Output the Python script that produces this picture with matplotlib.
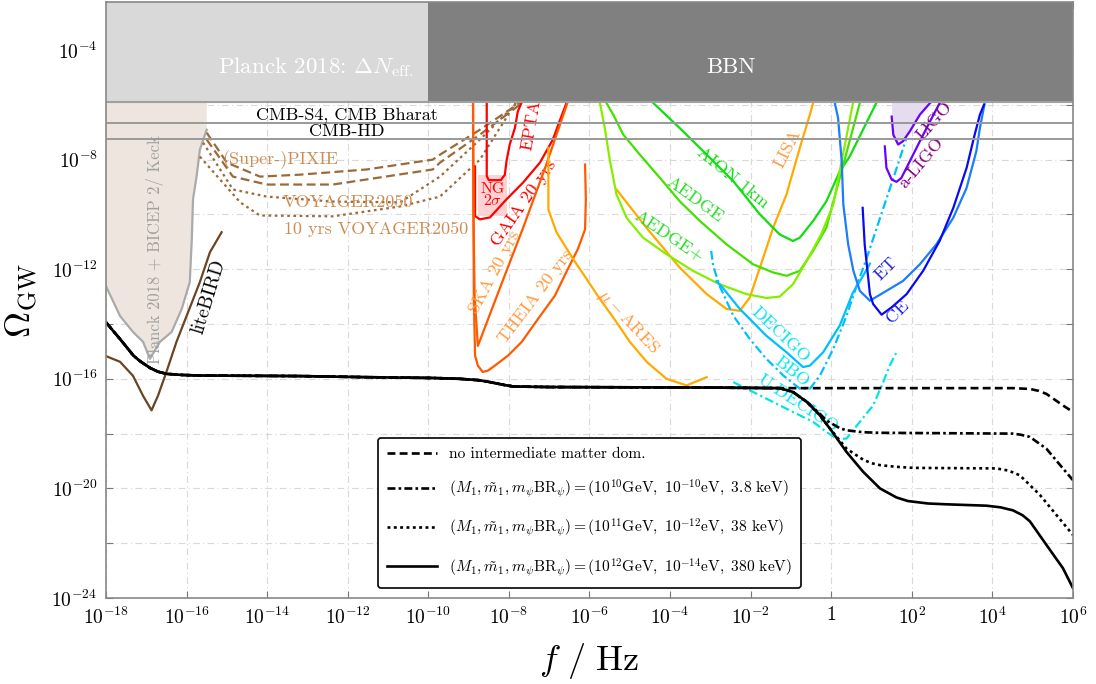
import numpy as np
import matplotlib
matplotlib.use("Agg")
import matplotlib.pyplot as plt
from matplotlib.patches import Rectangle

plt.rcParams['font.family'] = 'serif'
plt.rcParams['font.serif'] = ['cmr10', 'DejaVu Serif']
plt.rcParams['mathtext.fontset'] = 'cm'
plt.rcParams['axes.formatter.use_mathtext'] = True

# all values are log10(f/Hz) and log10(Omega_GW)

# benchmark spectra: shared low-frequency part, then the tails
common_lf = [-18.0, -17.65, -17.32, -17.16, -16.91, -16.71, -16.49, -16.1, -15.67, -13.19, -11.53, -9.88, -9.22, -8.75, -8.47, -8.1, -7.89, -7.0, -3.0, -1.28]
common_lo = [-13.94, -14.55, -15.15, -15.35, -15.6, -15.74, -15.82, -15.86, -15.88, -15.9, -15.94, -15.97, -16.0, -16.05, -16.12, -16.23, -16.28, -16.3, -16.32, -16.34]

nomd_lf = [0.0, 2.0, 4.5, 4.93, 5.15, 5.34, 5.75, 6.0]
nomd_lo = [-16.34, -16.34, -16.34, -16.37, -16.44, -16.55, -16.97, -17.21]

m10_lf = [-0.95, -0.6, -0.3, -0.12, 0.21, 0.38, 0.8, 1.21, 4.51, 4.7, 4.93, 5.34, 5.75, 6.0]
m10_lo = [-16.48, -16.85, -17.25, -17.52, -17.8, -17.88, -17.95, -17.97, -18.0, -18.04, -18.12, -18.55, -19.27, -19.7]

m11_lf = [-0.95, -0.6, -0.3, -0.03, 0.38, 0.79, 1.0, 1.21, 1.6, 2.03, 4.10, 4.4, 4.68, 5.18, 5.59, 6.0]
m11_lo = [-16.48, -16.85, -17.3, -17.82, -18.55, -18.95, -19.08, -19.15, -19.21, -19.25, -19.27, -19.35, -19.52, -20.24, -20.97, -21.7]

m12_lf = [-0.95, -0.6, -0.3, -0.03, 0.38, 0.79, 1.21, 1.62, 1.9, 2.4, 2.86, 3.85, 4.2, 4.51, 4.75, 4.93, 5.34, 5.75, 6.0]
m12_lo = [-16.48, -16.85, -17.3, -17.82, -18.67, -19.39, -20.0, -20.33, -20.46, -20.55, -20.58, -20.63, -20.69, -20.8, -20.98, -21.2, -22.06, -22.91, -23.64]

legend_labels = [
    'no intermediate matter dom.',
    r'$(M_1, \tilde{m}_1, m_\psi \mathrm{BR}_\psi) = (10^{10}\mathrm{GeV},\ 10^{-10}\mathrm{eV},\ 3.8\ \mathrm{keV})$',
    r'$(M_1, \tilde{m}_1, m_\psi \mathrm{BR}_\psi) = (10^{11}\mathrm{GeV},\ 10^{-12}\mathrm{eV},\ 38\ \mathrm{keV})$',
    r'$(M_1, \tilde{m}_1, m_\psi \mathrm{BR}_\psi) = (10^{12}\mathrm{GeV},\ 10^{-14}\mathrm{eV},\ 380\ \mathrm{keV})$',
]

# bounds
band_low = -5.9
cmbs4_lo = -6.65
cmbhd_lo = -7.24

planck_lf = [-15.5, -15.67, -15.75, -15.84, -15.87, -15.92, -16.12, -16.37, -16.66, -16.91, -17.08, -17.33, -17.65, -18.0]
planck_lo = [-6.91, -7.64, -8.6, -9.45, -10.9, -12.47, -13.45, -14.29, -14.65, -15.27, -14.65, -14.29, -13.71, -12.62]

litebird_lf = [-18.02, -17.65, -17.33, -17.08, -16.87, -16.71, -16.5, -16.25, -16.0, -15.67, -15.42, -15.13]
litebird_lo = [-15.16, -15.38, -15.89, -16.62, -17.15, -16.62, -15.75, -14.65, -13.71, -12.47, -11.38, -10.65]

pixie_lf = [-15.5, -15.0, -14.18, -13.19, -11.53, -9.89, -9.71, -8.72, -7.73]
pixie_lo = [-7.02, -8.11, -8.62, -8.55, -8.36, -8.0, -7.82, -6.91, -5.93]
spixie_lf = [-15.5, -14.85, -14.01, -12.37, -9.89, -9.71, -8.72, -7.73]
spixie_lo = [-7.27, -8.62, -8.91, -8.91, -8.36, -8.11, -7.09, -6.0]
voy_lf = [-15.59, -14.85, -14.01, -12.37, -10.7, -9.71, -8.72, -7.8]
voy_lo = [-7.38, -9.09, -9.35, -9.53, -9.56, -8.62, -7.27, -5.93]
voy10_lf = [-15.67, -14.67, -14.18, -12.37, -10.7, -9.71, -8.72, -7.83]
voy10_lo = [-7.89, -9.56, -10.04, -10.07, -9.71, -9.35, -8.0, -5.93]

epta_lf = [-8.55, -8.55, -8.5, -8.2, -8.1, -8.06, -7.98, -7.85, -7.78, -7.68]
epta_lo = [-5.9, -8.6, -8.75, -8.75, -8.55, -8.06, -7.45, -6.84, -6.25, -5.9]

gaia_lf = [-8.84, -8.84, -8.72, -8.47, -8.06, -7.65, -7.23, -6.91, -6.73, -6.57]
gaia_lo = [-8.25, -10.06, -10.18, -10.11, -9.45, -8.84, -8.11, -7.27, -6.55, -5.93]

ng_box = [-8.77, -8.05, -10.07, -8.55]  # f min, f max, Omega min, Omega max

ska_lf = [-8.89, -8.88, -8.85, -8.77, -8.2, -7.65, -7.1, -6.54]
ska_lo = [-5.9, -10.0, -13.0, -14.8, -12.6, -10.5, -8.3, -5.9]

theia_lf = [-8.89, -8.87, -8.84, -8.77, -8.65, -8.52, -8.35, -8.02, -7.68, -7.28, -6.86, -6.54, -6.29, -6.11, -6.09, -6.11]
theia_lo = [-5.93, -13.1, -15.15, -15.52, -15.75, -15.7, -15.52, -15.15, -14.65, -13.82, -12.97, -12.0, -11.27, -10.55, -9.45, -8.18]

mares_lf = [-7.02, -7.02, -6.82, -6.40, -6.07, -5.74, -5.33, -5.0, -4.58, -4.09, -3.59, -3.09]
mares_lo = [-7.57, -9.82, -10.65, -11.64, -12.36, -13.09, -13.93, -14.65, -15.38, -16.0, -16.24, -15.94]

lisa_lf = [-5.33, -4.59, -3.76, -3.09, -2.60, -2.27, -2.02, -1.77, -1.44, -1.11, -0.78, -0.53, -0.45]
lisa_lo = [-9.09, -10.48, -11.94, -12.91, -13.45, -13.52, -13.03, -11.94, -10.48, -9.27, -7.57, -6.36, -5.93]

aion_lf = [-4.42, -3.76, -3.09, -2.43, -1.77, -1.28, -0.95, -0.78, -0.45, -0.12, 0.21, 0.46, 1.12]
aion_lo = [-5.93, -6.85, -7.82, -8.79, -10.0, -10.73, -10.97, -10.85, -10.24, -9.52, -8.43, -7.88, -5.93]

aedge_lf = [-5.58, -5.41, -5.16, -4.75, -4.25, -3.76, -3.26, -2.60, -1.94, -1.44, -1.11, -0.78, -0.45, -0.12, 0.29, 0.71]
aedge_lo = [-5.93, -6.36, -7.09, -7.82, -8.67, -9.52, -10.24, -11.09, -11.82, -12.12, -12.24, -12.06, -11.33, -10.48, -8.24, -5.93]

aedgep_lf = [-5.74, -5.62, -5.49, -5.33, -5.08, -4.67, -4.09, -3.43, -2.77, -2.10, -1.61, -1.28, -0.95, -0.61, -0.25, 0.05, 0.54]
aedgep_lo = [-5.93, -6.85, -8.06, -9.27, -10.12, -10.85, -11.45, -12.06, -12.55, -12.91, -13.05, -13.0, -12.55, -11.7, -10.73, -9.64, -5.93]

decigo_lf = [-2.85, -2.73, -2.27, -1.61, -1.11, -0.70, -0.53, -0.20, 0.21, 0.54, 0.79, 0.96]
decigo_lo = [-12.44, -12.61, -13.45, -14.43, -15.03, -15.57, -15.52, -15.03, -14.06, -12.85, -12.24, -11.8]

bbo_lf = [-2.98, -2.93, -2.77, -2.43, -2.02, -1.61, -1.19, -0.78, -0.53, -0.28, 0.05, 0.38, 0.63, 0.87, 1.20, 1.53, 1.87]
bbo_lo = [-11.33, -11.88, -12.61, -13.70, -14.55, -15.27, -15.88, -16.36, -16.36, -15.88, -14.91, -13.70, -12.61, -11.64, -10.18, -8.73, -7.2]

udecigo_lf = [-2.43, -1.94, -1.44, -0.95, -0.45, -0.12, 0.16, 0.38, 0.71, 1.04, 1.29, 1.45, 1.62]
udecigo_lo = [-16.12, -16.48, -16.85, -17.21, -17.57, -17.94, -18.2, -18.18, -17.57, -16.97, -16.12, -15.52, -15.03]

et_lf = [0.09, 0.17, 0.26, 0.30, 0.42, 0.55, 0.71, 0.96, 1.37, 1.78, 2.20, 2.61, 3.03, 3.36, 3.60, 3.69, 3.77, 3.81]
et_lo = [-5.94, -6.48, -8.06, -9.64, -11.09, -12.06, -12.79, -13.15, -12.79, -12.43, -11.82, -11.09, -10.12, -9.03, -7.70, -6.85, -6.24, -5.94]

ce_lf = [0.78, 0.83, 0.96, 1.04, 1.25, 1.50, 1.87, 2.28, 2.69, 3.03, 3.36, 3.56, 3.69, 3.79]
ce_lo = [-9.76, -11.09, -12.91, -13.27, -13.66, -13.39, -12.91, -12.06, -10.97, -9.76, -8.30, -7.09, -6.36, -6.0]

ligo_lf = [1.50, 1.54, 1.66, 1.78, 1.95, 2.20, 2.45]
ligo_lo = [-6.43, -7.09, -7.45, -7.33, -6.97, -6.36, -5.94]

aligo_lf = [1.33, 1.37, 1.50, 1.62, 1.74, 1.95, 2.20, 2.45, 2.69]
aligo_lo = [-7.52, -8.30, -8.73, -8.81, -8.67, -8.06, -7.33, -6.61, -5.94]


def P(a):
    return 10.0 ** np.asarray(a, dtype=float)


fig = plt.figure(figsize=(10.96, 6.84), dpi=100)
ax = fig.add_axes([0.0967, 0.1257, 0.8823, 0.8713])
ax.set_xscale('log')
ax.set_yscale('log')
ax.set_xlim(1e-18, 1e6)
ax.set_ylim(1e-24, 10 ** -2.25)

# exclusion bands
ax.fill_between([1e-18, 1e-10], 10 ** band_low, 10 ** -2.25, color='#d9d9d9', lw=0, zorder=6)
ax.fill_between([1e-10, 1e6], 10 ** band_low, 10 ** -2.25, color='#808080', lw=0, zorder=6)
ax.axhline(10 ** band_low, color='#a0a0a0', lw=1.5, zorder=7)
ax.text(10 ** -12.8, 10 ** -4.62, r'Planck 2018: $\Delta N_{\rm eff.}$', color='white', fontsize=16.5,
        ha='center', va='center', zorder=8)
ax.text(10 ** -2.5, 10 ** -4.62, 'BBN', color='white', fontsize=16.5, ha='center', va='center', zorder=8)

# CMB projections
ax.axhline(10 ** cmbs4_lo, color='#999999', lw=1.4, zorder=4)
ax.axhline(10 ** cmbhd_lo, color='#999999', lw=1.4, zorder=4)
ax.text(10 ** -12.02, 10 ** -6.38, 'CMB-S4, CMB Bharat', fontsize=13, ha='center', va='center', zorder=5)
ax.text(10 ** -12.02, 10 ** -6.97, 'CMB-HD', fontsize=13, ha='center', va='center', zorder=5)

# Planck + BICEP region
poly_lf = [-18.0, -15.5] + planck_lf
poly_lo = [band_low, band_low] + planck_lo
ax.fill(P(poly_lf), P(poly_lo), color='#ede5de', lw=0, zorder=1)
ax.plot(P(planck_lf), P(planck_lo), color='#aaaaaa', lw=1.6, zorder=2)
ax.text(10 ** -16.78, 10 ** -11.3, 'Planck 2018 + BICEP 2/ Keck', color='#a0a0a0', fontsize=12,
        rotation=90, ha='center', va='center', zorder=3)

# liteBIRD and spectral distortions
ax.plot(P(litebird_lf), P(litebird_lo), color='#6b4423', lw=1.6, zorder=3)
ax.text(10 ** -15.45, 10 ** -13.0, 'liteBIRD', fontsize=14, rotation=73, ha='center', va='center', zorder=3)
brown = '#9b6a3a'
ax.plot(P(pixie_lf), P(pixie_lo), color=brown, lw=1.6, ls=(0, (4, 2)), zorder=3)
ax.plot(P(spixie_lf), P(spixie_lo), color=brown, lw=1.6, ls=(0, (4, 2)), zorder=3)
ax.plot(P(voy_lf), P(voy_lo), color=brown, lw=1.6, ls=(0, (1.2, 1.6)), zorder=3)
ax.plot(P(voy10_lf), P(voy10_lo), color=brown, lw=1.6, ls=(0, (1.2, 1.6)), zorder=3)
tan = '#cd8c52'
ax.text(10 ** -13.68, 10 ** -8.0, '(Super-)PIXIE', color=tan, fontsize=13, ha='center', va='center', zorder=3)
ax.text(10 ** -11.99, 10 ** -9.56, 'VOYAGER2050', color=tan, fontsize=13, ha='center', va='center', zorder=3)
ax.text(10 ** -11.3, 10 ** -10.55, '10 yrs VOYAGER2050', color=tan, fontsize=13, ha='center', va='center', zorder=3)

# pulsar timing and astrometry
ax.add_patch(Rectangle((10 ** ng_box[0], 10 ** ng_box[2]), 10 ** ng_box[1] - 10 ** ng_box[0],
                       10 ** ng_box[3] - 10 ** ng_box[2], color='#ffcccc', alpha=0.85, lw=0, zorder=3))
ax.text(10 ** -8.41, 10 ** -9.3, 'NG\n' + r'$2\sigma$', color='red', fontsize=11.5, ha='center', va='center',
        linespacing=0.8, zorder=4)
ax.plot(P(epta_lf), P(epta_lo), color='red', lw=1.6, zorder=3)
ax.plot(P(gaia_lf), P(gaia_lo), color='red', lw=1.6, zorder=3)
ax.text(10 ** -7.45, 10 ** -6.75, 'EPTA', color='red', fontsize=13, rotation=80, ha='center', va='center', zorder=3)
ax.text(10 ** -7.62, 10 ** -9.6, 'GAIA 20 yrs', color='red', fontsize=13, rotation=55, ha='center', va='center', zorder=3)
ax.plot(P(ska_lf), P(ska_lo), color='#ff5a00', lw=1.6, zorder=3)
ax.plot(P(theia_lf), P(theia_lo), color='#ff5a00', lw=1.6, zorder=3)
ax.text(10 ** -8.35, 10 ** -12.1, 'SKA 20 yrs', color='#ff9a3c', fontsize=13, rotation=62, ha='center', va='center', zorder=3)
ax.text(10 ** -7.33, 10 ** -13.0, 'THEIA 20 yrs', color='#ff9a3c', fontsize=13, rotation=53, ha='center', va='center', zorder=3)

# space and atom interferometers
ax.plot(P(mares_lf), P(mares_lo), color='#ffaa00', lw=1.6, zorder=3)
ax.text(10 ** -5.05, 10 ** -13.93, r'$\mu-$ARES', color='#ff9a3c', fontsize=13, rotation=-47, ha='center', va='center', zorder=3)
ax.plot(P(lisa_lf), P(lisa_lo), color='#ffaa00', lw=1.6, zorder=3)
ax.text(10 ** -1.08, 10 ** -7.6, 'LISA', color='#ff9a3c', fontsize=13, rotation=63, ha='center', va='center', zorder=3)
ax.plot(P(aion_lf), P(aion_lo), color='#11dd11', lw=1.6, zorder=3)
ax.text(10 ** -2.44, 10 ** -8.65, 'AION 1km', color='#11dd11', fontsize=13, rotation=-39, ha='center', va='center', zorder=3)
ax.plot(P(aedge_lf), P(aedge_lo), color='#44e000', lw=1.6, zorder=3)
ax.text(10 ** -3.38, 10 ** -9.45, 'AEDGE', color='#22dd22', fontsize=13, rotation=-36, ha='center', va='center', zorder=3)
ax.plot(P(aedgep_lf), P(aedgep_lo), color='#88ee00', lw=1.6, zorder=3)
ax.text(10 ** -4.03, 10 ** -10.8, 'AEDGE+', color='#22dd22', fontsize=13, rotation=-34, ha='center', va='center', zorder=3)

ax.plot(P(decigo_lf), P(decigo_lo), color='#00bfff', lw=1.6, zorder=3)
ax.plot(P(bbo_lf), P(bbo_lo), color='#00bfff', lw=1.6, ls=(0, (4, 1.5, 1, 1.5)), zorder=3)
ax.plot(P(udecigo_lf), P(udecigo_lo), color='#00e5e5', lw=1.6, ls=(0, (4, 1.5, 1, 1.5)), zorder=3)
ax.text(10 ** -1.25, 10 ** -14.4, 'DECIGO', color='#00e5f0', fontsize=13, rotation=-43, ha='center', va='center', zorder=3)
ax.text(10 ** -0.98, 10 ** -15.75, 'BBO', color='#00e5f0', fontsize=13, rotation=-38, ha='center', va='center', zorder=3)
ax.text(10 ** -0.83, 10 ** -16.9, 'U-DECIGO', color='#00e5f0', fontsize=13, rotation=-33, ha='center', va='center', zorder=3)

# ground based
ax.plot(P(et_lf), P(et_lo), color='#1a7cff', lw=1.6, zorder=3)
ax.plot(P(ce_lf), P(ce_lo), color='#0a0af0', lw=1.6, zorder=3)
ax.text(10 ** 1.35, 10 ** -12.0, 'ET', color='#2020ee', fontsize=13, rotation=45, ha='center', va='center', zorder=3)
ax.text(10 ** 1.65, 10 ** -13.56, 'CE', color='#2020ee', fontsize=13, rotation=45, ha='center', va='center', zorder=3)
ax.fill_between(P(ligo_lf), P(ligo_lo), 10 ** band_low, color='#e6dcef', lw=0, zorder=2)
ax.plot(P(ligo_lf), P(ligo_lo), color='#6a00ff', lw=1.6, zorder=3)
ax.plot(P(aligo_lf), P(aligo_lo), color='#6a00ff', lw=1.6, zorder=3)
ax.text(10 ** 2.55, 10 ** -6.6, 'LIGO', color='#800080', fontsize=13, rotation=48, ha='center', va='center', zorder=3)
ax.text(10 ** 2.22, 10 ** -8.1, 'a-LIGO', color='#800080', fontsize=13, rotation=50, ha='center', va='center', zorder=3)

# benchmark spectra
h1, = ax.plot(P(common_lf + nomd_lf), P(common_lo + nomd_lo), color='black', lw=1.9,
              ls=(0, (3, 1.6)), zorder=9)
h2, = ax.plot(P(common_lf + m10_lf), P(common_lo + m10_lo), color='black', lw=1.9,
              ls=(0, (3, 1.2, 1, 1.2)), zorder=9)
h3, = ax.plot(P(common_lf + m11_lf), P(common_lo + m11_lo), color='black', lw=1.9,
              ls=(0, (1.1, 1.3)), zorder=9)
h4, = ax.plot(P(common_lf + m12_lf), P(common_lo + m12_lo), color='black', lw=1.9, zorder=9)

leg = ax.legend([h1, h2, h3, h4], legend_labels, loc='lower center', bbox_to_anchor=(0.5, 0.017),
                borderaxespad=0, fontsize=11.2, frameon=True, fancybox=True, edgecolor='black',
                framealpha=1, handlelength=3.2, labelspacing=1.05, borderpad=0.6)
leg.get_frame().set_linewidth(1.2)
leg.set_zorder(10)

# axes, ticks, grid
xt = np.arange(-18, 7, 2)
ax.set_xticks(10.0 ** xt)
ax.set_xticklabels(['1' if v == 0 else r'$10^{%d}$' % v for v in xt])
yt = np.arange(-24, -2, 2)
ax.set_yticks(10.0 ** yt)
ax.set_yticklabels([r'$10^{%d}$' % v if v % 4 == 0 else '' for v in yt])
ax.minorticks_off()
ax.tick_params(direction='in', which='both', top=True, right=True, labelsize=14, length=5,
               color='#777777', pad=6)
ax.grid(True, color='#d9d9d9', ls=(0, (6, 3, 1, 3)), lw=0.8)
ax.set_axisbelow(True)
for s in ax.spines.values():
    s.set_color('#888888')
    s.set_linewidth(1.2)
    s.set_zorder(11)

ax.set_xlabel(r'$f\ /\ \mathrm{Hz}$', fontsize=26, labelpad=10)
ax.set_ylabel(r'$\Omega_{\rm GW}$', fontsize=26, labelpad=8)

fig.savefig('out.png', dpi=100)
